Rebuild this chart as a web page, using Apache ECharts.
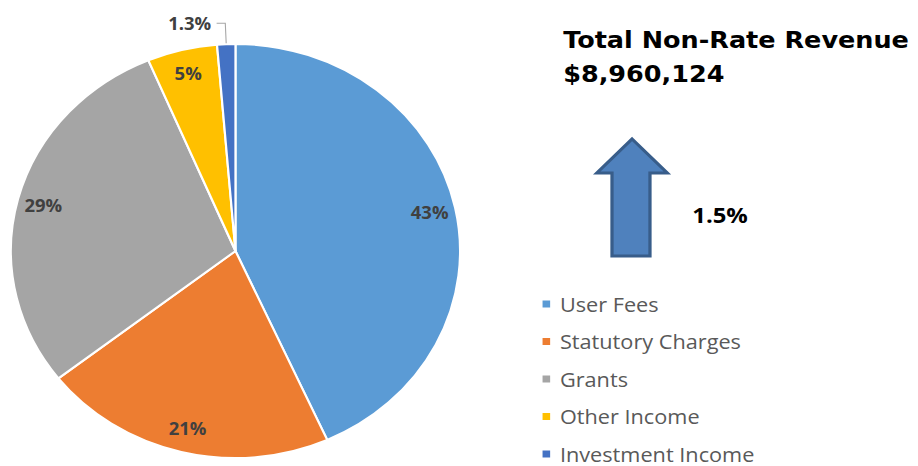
<!DOCTYPE html>
<html>
<head>
<meta charset="utf-8">
<script src="https://cdn.jsdelivr.net/npm/echarts@6/dist/echarts.min.js"></script>
<style>
  html, body { margin: 0; padding: 0; background: #fff; overflow: hidden; }
  /* 原圖橫向拉伸約 1.085 倍 */
  #chart { width: 846px; height: 466px; transform: scaleX(1.0851); transform-origin: 0 0; }
</style>
</head>
<body>
<div id="chart"></div>
<script>
// 數據
const categories = ['User Fees', 'Statutory Charges', 'Grants', 'Other Income', 'Investment Income'];
const shares = [43, 21, 29, 5, 1.3];
const totalTitle = 'Total Non-Rate Revenue';
const totalValue = '$8,960,124';
const changeLabel = '1.5%';

const colors = ['#5B9BD5', '#ED7D31', '#A5A5A5', '#FFC000', '#4472C4'];

const chart = echarts.init(document.getElementById('chart'), null, { renderer: 'svg' });

const pieData = categories.map((name, i) => ({ name: name, value: shares[i] }));

// 標籤用的透明圈
const labelData = categories.map((name, i) => {
    const item = { name: name, value: shares[i] };
    if (i === categories.length - 1) {
        item.label = { position: 'outside', distance: 3 };
        item.labelLine = { show: true, length: 21, length2: 8 };
    }
    return item;
});

chart.setOption({
    color: colors,
    animation: false,
    title: {
        text: totalTitle + '\n' + totalValue,
        left: 519,
        top: 23,
        padding: 0,
        textStyle: {
            fontFamily: 'DejaVu Sans',
            fontWeight: 900,
            fontSize: 23.5,
            lineHeight: 34,
            color: '#000'
        }
    },
    legend: {
        orient: 'vertical',
        left: 498,
        top: 294,
        height: 200,
        padding: 0,
        itemWidth: 9,
        itemHeight: 9,
        itemGap: 17.5,
        icon: 'rect',
        data: categories,
        textStyle: {
            fontFamily: 'Open Sans',
            fontSize: 20,
            lineHeight: 20,
            color: '#595959',
            padding: [0, 0, 0, 3]
        }
    },
    graphic: [
        {
            type: 'polygon',
            shape: {
                points: [[582.5, 139], [615, 173], [599, 173], [599, 256], [564, 256], [564, 173], [550, 173]]
            },
            style: { fill: '#4F81BD', stroke: '#385D8A', lineWidth: 3 }
        },
        {
            type: 'text',
            left: 638,
            top: 203,
            style: {
                text: changeLabel,
                fontFamily: 'Open Sans',
                fontWeight: 'bold',
                fontSize: 22,
                fill: '#000'
            }
        }
    ],
    series: [
        {
            name: 'Revenue',
            type: 'pie',
            center: [217, 251],
            radius: [0, 207],
            startAngle: 90,
            clockwise: true,
            label: { show: false },
            labelLine: { show: false },
            itemStyle: { borderColor: '#fff', borderWidth: 2 },
            data: pieData
        },
        {
            name: 'Labels',
            type: 'pie',
            center: [217, 251],
            radius: [153, 207],
            startAngle: 90,
            clockwise: true,
            silent: true,
            itemStyle: { color: 'rgba(0,0,0,0)' },
            label: {
                show: true,
                position: 'inside',
                formatter: p => p.value + '%',
                fontFamily: 'Open Sans',
                fontWeight: 'bold',
                fontSize: 17,
                color: '#404040'
            },
            labelLine: { show: false, lineStyle: { color: '#A6A6A6', width: 1 } },
            data: labelData
        }
    ]
});
</script>
</body>
</html>
